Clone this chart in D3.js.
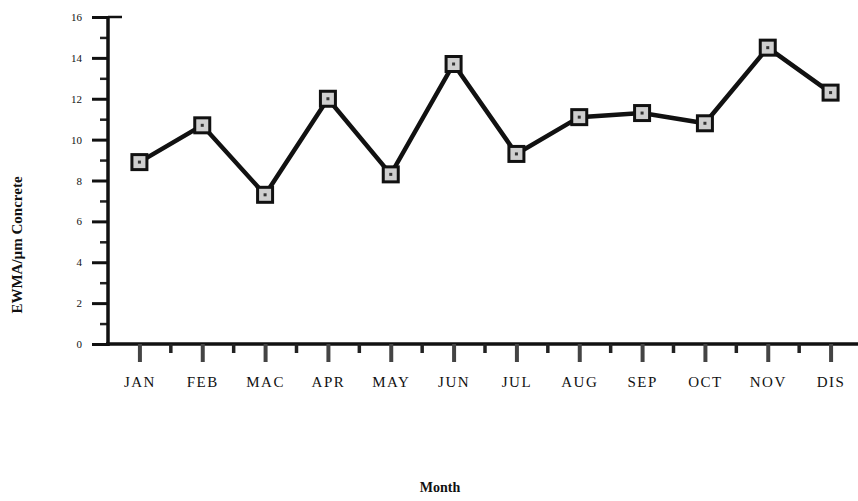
<!DOCTYPE html>
<html><head><meta charset="utf-8">
<script src="https://cdn.jsdelivr.net/npm/d3@7"></script>
<style>body{margin:0;background:#fff}svg{display:block}text{font-family:"Liberation Serif","Times New Roman",serif;fill:#111}</style>
</head><body>
<script>
const months = ["JAN","FEB","MAC","APR","MAY","JUN","JUL","AUG","SEP","OCT","NOV","DIS"];
const values = [8.9, 10.7, 7.3, 12.0, 8.3, 13.7, 9.3, 11.1, 11.3, 10.8, 14.5, 12.3];
const yTicks = [0,2,4,6,8,10,12,14,16];
const yMinor = [1,3,5,7,9,11,13,15];
const xTitle = "Month";
const yTitle = "EWMA/µm Concrete";

const W=858,H=501;
const svg=d3.select("body").append("svg").attr("width",W).attr("height",H);
const x0=108, x1=862, yTop=17, yBot=344;
const x=d3.scalePoint().domain(months).range([x0,x1]).padding(0.5);
const y=d3.scaleLinear().domain([0,16]).range([yBot,yTop]);
const step=x.step();

// y axis
const ya=svg.append("g").attr("transform",`translate(${x0},0)`)
 .call(d3.axisLeft(y).tickValues(yTicks).tickSize(16).tickPadding(10).tickFormat(d3.format("d")));
ya.select(".domain").remove();
ya.selectAll(".tick line").attr("stroke","#111").attr("stroke-width",3);
ya.selectAll(".tick text").style("font-size","11px");
svg.append("g").attr("transform",`translate(${x0},0)`)
 .call(d3.axisLeft(y).tickValues(yMinor).tickSize(8).tickFormat(""))
 .call(g=>{g.select(".domain").remove();g.selectAll("line").attr("stroke","#222").attr("stroke-width",2.5);});
svg.append("line").attr("x1",x0).attr("x2",x0).attr("y1",yTop-1).attr("y2",yBot+2).attr("stroke","#111").attr("stroke-width",3.5);
svg.append("line").attr("x1",x0-2).attr("x2",W).attr("y1",yBot).attr("y2",yBot).attr("stroke","#111").attr("stroke-width",3.5);
svg.append("line").attr("x1",x0).attr("x2",x0+14).attr("y1",yTop).attr("y2",yTop).attr("stroke","#111").attr("stroke-width",2.5);

// x axis
const xa=svg.append("g").attr("transform",`translate(0,${yBot})`)
 .call(d3.axisBottom(x).tickSize(18).tickPadding(14));
xa.select(".domain").remove();
xa.selectAll(".tick line").attr("stroke","#444").attr("stroke-width",4);
xa.selectAll(".tick text").style("font-size","15px").style("letter-spacing","1.5px");
const bounds=d3.range(1,12).map(i=>x(months[i])-step/2);
svg.append("g").selectAll("line").data(bounds).join("line")
 .attr("x1",d=>d).attr("x2",d=>d).attr("y1",yBot).attr("y2",yBot+9)
 .attr("stroke","#222").attr("stroke-width",3.5);

// line
svg.append("path").datum(values.map((v,i)=>[x(months[i]),y(v)]))
 .attr("d",d3.line()).attr("fill","none").attr("stroke","#111").attr("stroke-width",4.5).attr("stroke-linejoin","miter");
const mk=svg.append("g").selectAll("g").data(values).join("g")
 .attr("transform",(d,i)=>`translate(${x(months[i])},${y(d)})`);
mk.append("rect").attr("x",-7.5).attr("y",-7.5).attr("width",15).attr("height",15)
 .attr("fill","#cfcfcf").attr("stroke","#111").attr("stroke-width",3);
mk.append("rect").attr("x",-1.5).attr("y",-1.5).attr("width",3).attr("height",3).attr("fill","#333");

// titles
svg.append("text").attr("x",440).attr("y",492).attr("text-anchor","middle")
 .style("font-size","14px").style("font-weight","bold").text(xTitle);
svg.append("text").attr("transform",`translate(22,${(165+325)/2}) rotate(-90)`).attr("text-anchor","middle")
 .style("font-size","15px").style("font-weight","bold").text(yTitle);
</script>
</body></html>
